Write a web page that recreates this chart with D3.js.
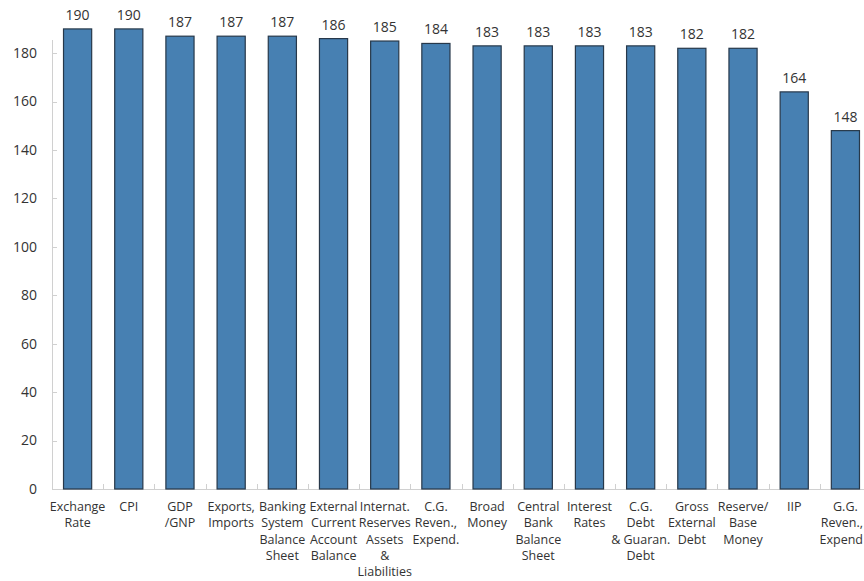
<!DOCTYPE html>
<html>
<head>
<meta charset="utf-8">
<script src="https://cdn.jsdelivr.net/npm/d3@7"></script>
<style>
  html, body { margin: 0; padding: 0; background: #fff; }
  svg { display: block; font-family: "Open Sans", "Noto Sans", sans-serif; }
</style>
</head>
<body>
<svg id="chart" width="864" height="581"></svg>
<script>
// Number of economies reporting each data category
const categories = [
  ["Exchange", "Rate"],
  ["CPI"],
  ["GDP", "/GNP"],
  ["Exports,", "Imports"],
  ["Banking", "System", "Balance", "Sheet"],
  ["External", "Current", "Account", "Balance"],
  ["Internat.", "Reserves", "Assets", "&", "Liabilities"],
  ["C.G.", "Reven.,", "Expend."],
  ["Broad", "Money"],
  ["Central", "Bank", "Balance", "Sheet"],
  ["Interest", "Rates"],
  ["C.G.", "Debt", "& Guaran.", "Debt"],
  ["Gross", "External", "Debt"],
  ["Reserve/", "Base", "Money"],
  ["IIP"],
  ["G.G.", "Reven.,", "Expend"]
];
const values = [190, 190, 187, 187, 187, 186, 185, 184, 183, 183, 183, 183, 182, 182, 164, 148];
const yTicks = [0, 20, 40, 60, 80, 100, 120, 140, 160, 180];

const svg = d3.select("#chart");
const width = 864;
const plotLeft = 52, plotRight = 871, plotTop = 26.5, plotBottom = 489;

const x = d3.scaleBand()
  .domain(d3.range(values.length))
  .range([plotLeft, plotRight])
  .paddingInner(0.45)
  .paddingOuter(0.225);

const y = d3.scaleLinear()
  .domain([0, 191])
  .range([plotBottom, plotTop]);

// axes: light grey lines with inward ticks
const axisColor = "#d0d0d0";
svg.append("line")
  .attr("x1", plotLeft + 0.5).attr("x2", plotLeft + 0.5)
  .attr("y1", 40).attr("y2", plotBottom)
  .attr("stroke", axisColor);
svg.append("line")
  .attr("x1", plotLeft).attr("x2", width)
  .attr("y1", plotBottom + 0.5).attr("y2", plotBottom + 0.5)
  .attr("stroke", axisColor);

svg.append("g").selectAll("line")
  .data(yTicks)
  .join("line")
  .attr("x1", plotLeft).attr("x2", plotLeft + 5)
  .attr("y1", d => Math.round(y(d)) + 0.5)
  .attr("y2", d => Math.round(y(d)) + 0.5)
  .attr("stroke", axisColor);

svg.append("g").selectAll("text")
  .data(yTicks)
  .join("text")
  .attr("x", 37)
  .attr("y", d => y(d))
  .attr("dy", "0.35em")
  .attr("text-anchor", "end")
  .attr("font-size", 14)
  .attr("fill", "#333")
  .text(d => d);

// category boundary ticks on the x axis
const step = x.step();
svg.append("g").selectAll("line")
  .data(d3.range(1, values.length))
  .join("line")
  .attr("x1", i => Math.round(x(i) - step * 0.225) + 0.5)
  .attr("x2", i => Math.round(x(i) - step * 0.225) + 0.5)
  .attr("y1", plotBottom).attr("y2", plotBottom - 5)
  .attr("stroke", axisColor);

// bars
svg.append("g").selectAll("rect")
  .data(values)
  .join("rect")
  .attr("x", (d, i) => x(i))
  .attr("y", d => y(d))
  .attr("width", x.bandwidth())
  .attr("height", d => plotBottom - y(d))
  .attr("fill", "#4780b2")
  .attr("stroke", "#27384a")
  .attr("stroke-width", 1.2);

// value labels
svg.append("g").selectAll("text")
  .data(values)
  .join("text")
  .attr("x", (d, i) => x(i) + x.bandwidth() / 2)
  .attr("y", d => y(d) - 9)
  .attr("text-anchor", "middle")
  .attr("font-size", 14)
  .attr("fill", "#333")
  .text(d => d);

// category labels, one tspan per line
const labels = svg.append("g").selectAll("text")
  .data(categories)
  .join("text")
  .attr("text-anchor", "middle")
  .attr("font-size", 12.5)
  .attr("fill", "#333");
labels.selectAll("tspan")
  .data((d, i) => d.map(line => ({ line, i })))
  .join("tspan")
  .attr("x", d => x(d.i) + x.bandwidth() / 2)
  .attr("y", (d, j) => 511 + j * 16.3)
  .text(d => d.line);

// keep each label line inside the drawing's right edge
labels.selectAll("tspan").each(function () {
  const box = this.getBBox();
  const overflow = box.x + box.width - (width - 1);
  if (overflow > 0) {
    d3.select(this).attr("x", +d3.select(this).attr("x") - overflow);
  }
});
</script>
</body>
</html>
